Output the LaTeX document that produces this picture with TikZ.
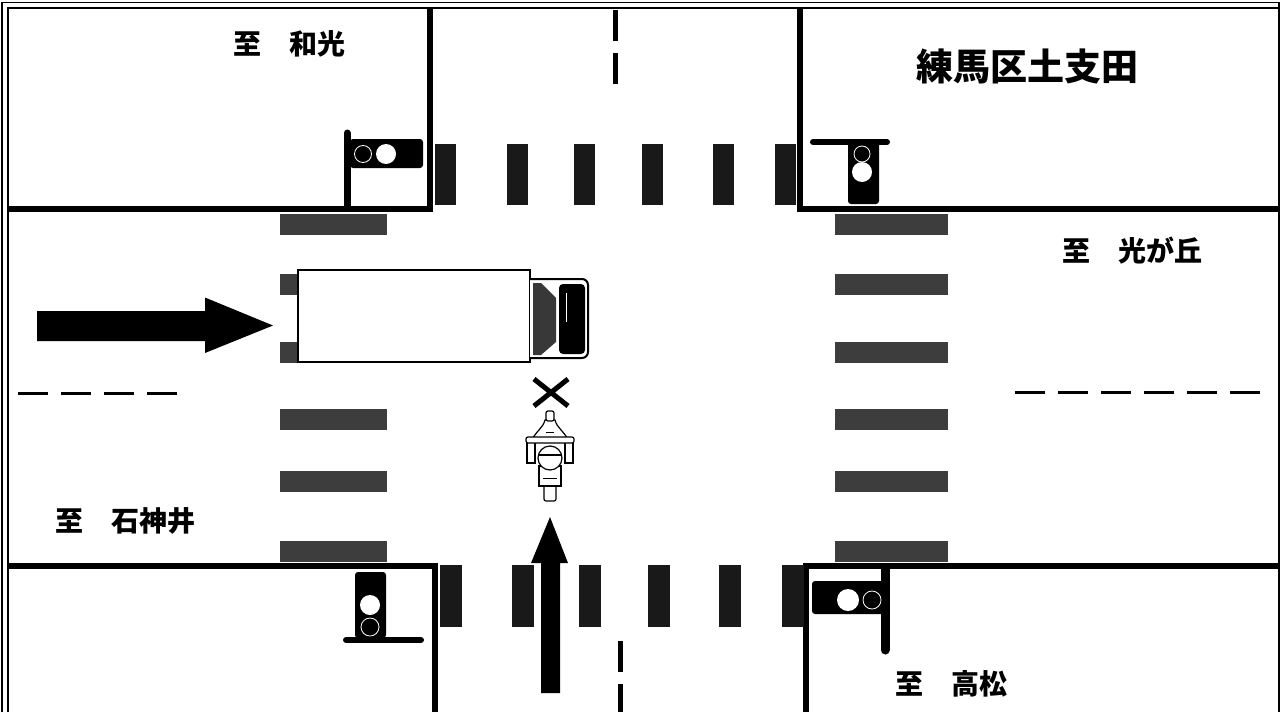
\documentclass[tikz,border=0pt]{standalone}
\usepackage{fontspec}
\newfontfamily\jp{Noto Sans CJK JP}
\begin{document}
\begin{tikzpicture}[x=1pt,y=-1pt,
  edge/.style={line width=5.5pt},
  frame/.style={line width=1.6pt},
  vstripe/.style={fill=black!90},
  hstripe/.style={fill=black!76},
  laneline/.style={line width=3pt, dash pattern=on 30pt off 13pt},
  cline/.style={line width=5pt},
  placetext/.style={font=\jp\bfseries\fontsize{28}{30}\selectfont, inner sep=0pt},
  housing/.style={fill=black, rounded corners=3pt},
  lampoff/.style={fill=black, draw=white, line width=0.8pt},
  pole/.style={line width=7pt, line cap=round},
  moto/.style={draw=black, fill=white, line width=1.2pt},
]
\useasboundingbox (0,0) rectangle (1281,712);
\fill[white] (0,0) rectangle (1281,712);

% frame
\draw[frame] (2,712) -- (2,2.5) -- (1279,2.5) -- (1279,712);
\draw[frame] (8,712) -- (8,8) -- (1278,8);

% blocks
\draw[edge] (8,209) -- (430,209) -- (430,8);
\draw[edge] (800,8) -- (800,209) -- (1278,209);
\draw[edge] (8,566) -- (435,566) -- (435,712);
\draw[edge] (1278,566) -- (806,566) -- (806,712);

% crosswalks (vertical stripes)
\foreach \x in {435,507,574,642,713,775}
  \fill[vstripe] (\x,144) rectangle ++(21,61);
\foreach \x in {440,512,579,648,719,782}
  \fill[vstripe] (\x,565) rectangle ++(22,62);
% crosswalks (horizontal stripes)
\foreach \c in {224,284,352,419,481,551}{
  \fill[hstripe] (280,\c-10.5) rectangle (387,\c+10.5);
  \fill[hstripe] (835,\c-10.5) rectangle (948,\c+10.5);
}

% lane lines
\draw[laneline] (18,393) -- (180,393);
\draw[laneline] (1015,392) -- (1262,392);
\draw[cline] (615,10) -- (615,41) (615,53) -- (615,84);
\draw[cline] (620,641) -- (620,672) (620,684) -- (620,712);

% truck
\draw[line width=2.5pt, fill=white] (298,270) rectangle (530,362);
\draw[line width=2pt, fill=white, rounded corners=6pt] (530,279) -- (588,279) -- (588,358) -- (530,358);
\fill[black, rounded corners=4pt] (559,284) rectangle (585,354);
\fill[black!78] (533,283) -- (541,283) -- (556,298) -- (556,342) -- (541,355) -- (533,355) -- cycle;
\draw[white, line width=0.8pt] (566,293) -- (566,322);

% arrows
\fill (37,311) -- (205,311) -- (205,297.5) -- (273,325.5) -- (205,353) -- (205,341) -- (37,341) -- cycle;
\fill (541,693) -- (541,563) -- (531,563) -- (550,517) -- (568,563) -- (560,563) -- (560,693) -- cycle;

% cross mark
\draw[line width=5pt] (534,379) -- (568,406) (534,406) -- (568,379);

% motorcycle
\draw[moto, rounded corners=2pt] (544,484) rectangle (556,501);
\draw[moto] (539,466) -- (539,486) -- (561,486) -- (561,466) -- cycle;
\draw[line width=1pt] (543,478) -- (557,478);
\draw[moto] (531,441) .. controls (537,430) and (543,428) .. (545,420) -- (555,420) .. controls (557,428) and (563,430) .. (569,441) -- cycle;
\draw[moto, rounded corners=2pt] (546,411) rectangle (554,421);
\draw[moto] (527,442) rectangle (535,463);
\draw[moto] (565,442) rectangle (573,463);
\draw[moto, rounded corners=2pt] (526,437) rectangle (574,443);
\draw[moto] (550,458) circle (12pt);
\draw[line width=1.2pt] (538.5,455) -- (561.5,455);
\draw[line width=1pt] (546,432) -- (554,432);

% traffic lights
\draw[pole] (347,133) -- (347,206);
\fill[housing] (350,139) rectangle (423,168);
\draw[lampoff] (363,154) circle (8.5pt);
\fill[white] (386,154) circle (10pt);

\draw[pole, line width=6pt] (813,142) -- (887,142);
\fill[housing] (848,142) rectangle (879,204);
\draw[lampoff] (862,154) circle (8pt);
\fill[white] (862,172) circle (10pt);

\fill[housing] (355,572) rectangle (386,638);
\draw[pole, line width=6pt] (346,640) -- (421,640);
\fill[white] (370,605) circle (10pt);
\draw[lampoff] (370,627) circle (9pt);

\fill[housing] (812,581) rectangle (884,614);
\draw[pole, line width=9pt] (885,568) -- (885,650);
\fill[white] (848,600) circle (11pt);
\draw[lampoff] (872,600) circle (9pt);

% texts
\node[placetext] (wako) at (289.5,43.5) {至　和光};
\node[placetext, font=\jp\bfseries\fontsize{37}{40}\selectfont] (nerima) at (1027,66.5) {練馬区土支田};
\node[placetext] (hikari) at (1132,251) {至　光が丘};
\node[placetext] (shaku) at (125,521) {至　石神井};
\node[placetext] (taka) at (951.5,683.5) {至　高松};
\end{tikzpicture}
\end{document}
